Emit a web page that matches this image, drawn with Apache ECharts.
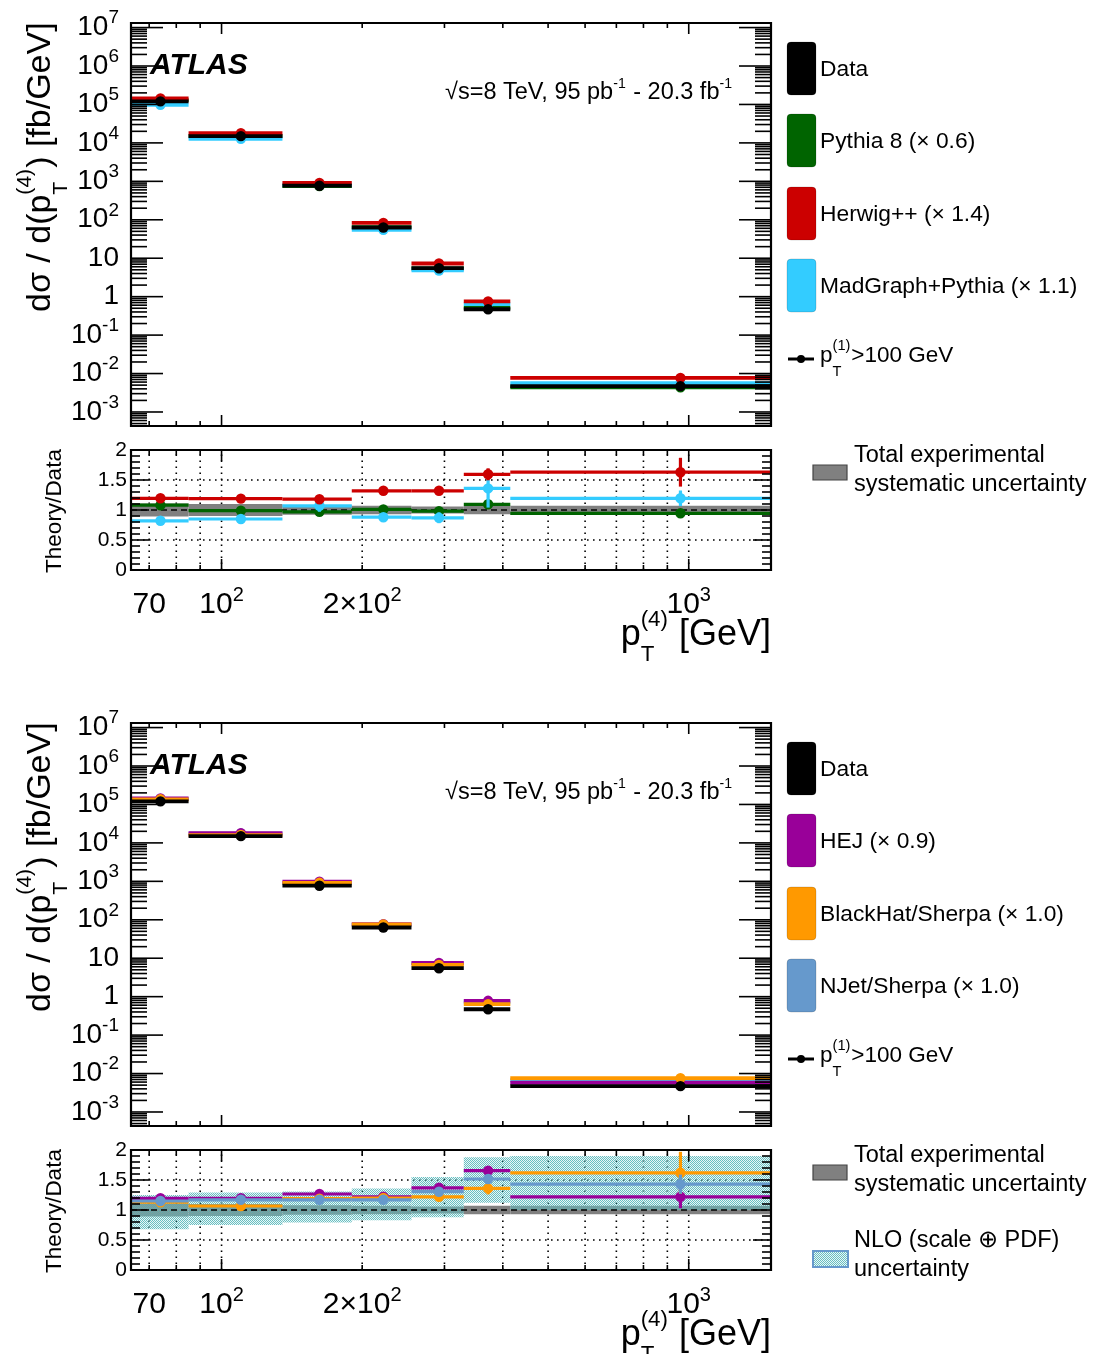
<!DOCTYPE html>
<html><head><meta charset="utf-8">
<script src="https://cdn.jsdelivr.net/npm/echarts@6/dist/echarts.min.js"></script>
<style>html,body{margin:0;padding:0;background:#fff}#c{width:1096px;height:1354px}</style>
</head><body><div id="c"></div>
<script>
// ================= DATA =================
const binEdges = [64, 85, 135, 190, 255, 330, 415, 1500];
const markerX = [74, 110, 162, 222, 292, 372, 960];

// cross sections [fb/GeV]
const dataXS     = [1.2e5, 1.5e4, 770, 63, 5.5, 0.47, 4.7e-3];
const pythiaXS   = [1.3e5, 1.49e4, 750, 64, 5.4, 0.51, 4.4e-3];
const herwigXS   = [1.43e5, 1.79e4, 910, 83, 7.3, 0.75, 7.7e-3];
const madgraphXS = [9.8e4, 1.28e4, 820, 55, 4.8, 0.64, 5.6e-3];
const hejXS      = [1.43e5, 1.79e4, 975, 77, 7.5, 0.78, 5.7e-3];
const blackhatXS = [1.36e5, 1.6e4, 915, 76, 6.7, 0.64, 7.6e-3];
const njetXS     = [1.38e5, 1.75e4, 900, 74, 7.2, 0.71, 6.7e-3];

// theory / data ratios
const pythiaRatio      = [1.08, 0.99, 0.97, 1.01, 0.98, 1.095, 0.945];
const pythiaRatioErr   = [0.02, 0.02, 0.03, 0.02, 0.03, 0.04, 0.05];
const herwigRatio      = [1.195, 1.19, 1.18, 1.32, 1.32, 1.595, 1.63];
const herwigRatioErr   = [0.02, 0.02, 0.03, 0.02, 0.03, 0.1, 0.24];
const madgraphRatio    = [0.82, 0.85, 1.07, 0.88, 0.87, 1.36, 1.195];
const madgraphRatioErr = [0.02, 0.03, 0.1, 0.03, 0.09, 0.32, 0.13];
const hejRatio         = [1.195, 1.195, 1.267, 1.22, 1.37, 1.655, 1.22];
const hejRatioErr      = [0.02, 0.02, 0.03, 0.03, 0.04, 0.06, 0.19];
const blackhatRatio    = [1.13, 1.067, 1.19, 1.2, 1.22, 1.36, 1.62];
const blackhatRatioErr = [0.02, 0.03, 0.03, 0.04, 0.07, 0.1, 0.35];
const njetRatio        = [1.15, 1.17, 1.17, 1.17, 1.305, 1.517, 1.43];
const njetRatioErr     = [0.02, 0.02, 0.02, 0.03, 0.05, 0.08, 0.16];

// uncertainty bands
const expSystLow  = [0.89, 0.90, 0.92, 0.93, 0.94, 0.93, 0.93];
const expSystHigh = [1.11, 1.10, 1.08, 1.07, 1.06, 1.07, 1.07];
const nloBandLow  = [0.68, 0.75, 0.79, 0.83, 0.88, 1.12, 1.0];
const nloBandHigh = [1.25, 1.29, 1.31, 1.36, 1.55, 1.88, 1.9];

// axes / tick labels
const xLabelValues = [70, 100, 200, 1000];
const xLabelTexts  = ['70', '10^{2}', '2×10^{2}', '10^{3}'];
const xMajorTicks  = [100, 1000];
const xMinorTicks  = [70, 80, 90, 200, 300, 400, 500, 600, 700, 800, 900];
const yLabelValues = [1e-3, 1e-2, 1e-1, 1, 10, 1e2, 1e3, 1e4, 1e5, 1e6, 1e7];
const yLabelTexts  = ['10^{-3}', '10^{-2}', '10^{-1}', '1', '10', '10^{2}', '10^{3}', '10^{4}', '10^{5}', '10^{6}', '10^{7}'];
const yMinorMult   = [2, 3, 4, 5, 6, 7, 8, 9];
const ratioLabelValues = [0, 0.5, 1, 1.5, 2];
const ratioLabelTexts  = ['0', '0.5', '1', '1.5', '2'];
const ratioGridValues  = [0.5, 1.5];

const topLegend    = ['Data', 'Pythia 8 (× 0.6)', 'Herwig++ (× 1.4)', 'MadGraph+Pythia (× 1.1)'];
const bottomLegend = ['Data', 'HEJ (× 0.9)', 'BlackHat/Sherpa (× 1.0)', 'NJet/Sherpa (× 1.0)'];

// ================= STYLE =================
const C = {data:'#000000', pythia:'#006400', herwig:'#cc0000', madgraph:'#33ccff',
           hej:'#990099', blackhat:'#ff9900', njet:'#6699cc', syst:'#808080'};
const FONT = 'Liberation Sans';
const X_MIN = 64, X_MAX = 1500, Y_MIN = 4.32e-4, Y_MAX = 1.315e7;
const grids = [
  {left:131, top:23,   width:640, height:403},
  {left:131, top:450,  width:640, height:120},
  {left:131, top:723,  width:640, height:403},
  {left:131, top:1150, width:640, height:120}
];

// checker pattern for NLO band
const pc = document.createElement('canvas'); pc.width = 2; pc.height = 2;
const pctx = pc.getContext('2d');
pctx.fillStyle = 'rgba(78,180,182,0.85)'; pctx.fillRect(0,0,1,1); pctx.fillRect(1,1,1,1);
pctx.fillStyle = 'rgba(170,220,222,0.25)'; pctx.fillRect(1,0,1,1); pctx.fillRect(0,1,1,1);
const nloPattern = {image: pc, repeat: 'repeat'};

// ================= HELPERS =================
const mctx = document.createElement('canvas').getContext('2d');
function tw(t, s, w) { mctx.font = (w || 'normal') + ' ' + s + 'px "' + FONT + '"'; return mctx.measureText(t).width; }
function txt(x, base, text, size, extra) {
  return {type:'text', x: x, y: base - 0.32 * size, silent:true,
    style: Object.assign({text: text, fontSize: size, fontFamily: FONT, fill: '#000', align: 'left', verticalAlign: 'middle'}, extra || {})};
}
// parts: strings or {sup, sub}
function scriptLine(parts, size, o) {
  o = o || {};
  const ss = size * (o.scale || 0.62), supDy = size * (o.supDy != null ? o.supDy : -0.55), subDy = size * (o.subDy != null ? o.subDy : 0.45);
  let x = 0; const ch = [];
  parts.forEach(p => {
    if (typeof p === 'string') { ch.push(txt(x, 0, p, size)); x += tw(p, size); }
    else {
      let w = 0;
      if (p.sup) { ch.push(txt(x, supDy, p.sup, ss)); w = Math.max(w, tw(p.sup, ss)); }
      if (p.sub) { ch.push(txt(x, subDy, p.sub, ss)); w = Math.max(w, tw(p.sub, ss)); }
      x += w + 1;
    }
  });
  return {children: ch, width: x};
}
function richFmt(s) {
  const out = []; const re = /\^\{([^}]*)\}/g; let last = 0, m;
  while ((m = re.exec(s))) { if (m.index > last) out.push('{b|' + s.slice(last, m.index) + '}'); out.push('{sup|' + m[1] + '}'); last = re.lastIndex; }
  if (last < s.length) out.push('{b|' + s.slice(last) + '}');
  return out.join('');
}
function findIdx(arr, v) { return arr.findIndex(t => Math.abs(t - v) <= Math.abs(t) * 1e-6 + 1e-12); }

// ================= SERIES BUILDERS =================
function mainSeries(gi, vals, color, lw, r) {
  return {type:'custom', xAxisIndex:gi, yAxisIndex:gi, clip:false, silent:true,
    data: vals.map((v, i) => [binEdges[i], binEdges[i+1], markerX[i], v]),
    encode: {x:[0,1,2], y:3},
    renderItem: (p, api) => {
      const v = api.value(3);
      const a = api.coord([api.value(0), v]), b = api.coord([api.value(1), v]), m = api.coord([api.value(2), v]);
      return {type:'group', children:[
        {type:'line', shape:{x1:a[0], y1:a[1], x2:b[0], y2:b[1]}, style:{stroke:color, lineWidth:lw}},
        {type:'circle', shape:{cx:m[0], cy:m[1], r:r}, style:{fill:color}}]};
    }};
}
function ratioSeries(gi, vals, errs, color) {
  return {type:'custom', xAxisIndex:gi, yAxisIndex:gi, clip:false, silent:true,
    data: vals.map((v, i) => [binEdges[i], binEdges[i+1], markerX[i], v, errs[i]]),
    encode: {x:[0,1,2], y:3},
    renderItem: (p, api) => {
      const v = api.value(3), e = api.value(4);
      const a = api.coord([api.value(0), v]), b = api.coord([api.value(1), v]), m = api.coord([api.value(2), v]);
      const t = api.coord([api.value(2), v + e]), d = api.coord([api.value(2), v - e]);
      return {type:'group', children:[
        {type:'line', shape:{x1:a[0], y1:a[1], x2:b[0], y2:b[1]}, style:{stroke:color, lineWidth:3.2}},
        {type:'line', shape:{x1:t[0], y1:t[1], x2:d[0], y2:d[1]}, style:{stroke:color, lineWidth:3.2}},
        {type:'circle', shape:{cx:m[0], cy:m[1], r:5.2}, style:{fill:color}}]};
    }};
}
function bandSeries(gi, lows, highs, fill) {
  return {type:'custom', xAxisIndex:gi, yAxisIndex:gi, clip:true, silent:true,
    data: lows.map((l, i) => [binEdges[i], binEdges[i+1], l, highs[i]]),
    encode: {x:[0,1], y:[2,3]},
    renderItem: (p, api) => {
      const a = api.coord([api.value(0), api.value(3)]), b = api.coord([api.value(1), api.value(2)]);
      return {type:'rect', shape:{x:a[0], y:a[1], width:b[0]-a[0], height:b[1]-a[1]}, style:{fill:fill}};
    }};
}
function ratioGridSeries(gi) {
  return {type:'custom', xAxisIndex:gi, yAxisIndex:gi, clip:false, silent:true, data:[[100, 1]],
    renderItem: (p, api) => {
      const ch = []; const dot = {stroke:'#000', lineWidth:1.6, lineDash:[1.6, 4.4]};
      xMajorTicks.concat(xMinorTicks).forEach(v => {
        const a = api.coord([v, 0]), b = api.coord([v, 2]);
        ch.push({type:'line', shape:{x1:a[0], y1:a[1], x2:b[0], y2:b[1]}, style:dot});
      });
      ratioGridValues.forEach(v => {
        const a = api.coord([X_MIN, v]), b = api.coord([X_MAX, v]);
        ch.push({type:'line', shape:{x1:a[0], y1:a[1], x2:b[0], y2:b[1]}, style:dot});
      });
      return {type:'group', children:ch};
    }};
}
function unitySeries(gi) {
  return {type:'custom', xAxisIndex:gi, yAxisIndex:gi, clip:false, silent:true, data:[[100, 1]],
    renderItem: (p, api) => {
      const a = api.coord([X_MIN, 1]), b = api.coord([X_MAX, 1]);
      return {type:'line', shape:{x1:a[0], y1:a[1], x2:b[0], y2:b[1]}, style:{stroke:'#000', lineWidth:1.6, lineDash:[6, 4]}};
    }};
}
function frameSeries(gi, isMain) {
  return {type:'custom', xAxisIndex:gi, yAxisIndex:gi, clip:false, silent:true, data:[[100, 1]],
    renderItem: (p, api) => {
      const yLo = isMain ? Y_MIN : 0, yHi = isMain ? Y_MAX : 2, yRef = 1;
      const tl = api.coord([X_MIN, yHi]), br = api.coord([X_MAX, yLo]);
      const L = tl[0], R = br[0], T = tl[1], B = br[1];
      const ch = []; const st = {stroke:'#000', lineWidth:1.6};
      const seg = (x1, y1, x2, y2) => ch.push({type:'line', shape:{x1, y1, x2, y2}, style:st});
      xMajorTicks.forEach(v => { const x = api.coord([v, yRef])[0]; seg(x, B, x, B - 11); seg(x, T, x, T + 11); });
      xMinorTicks.forEach(v => { const x = api.coord([v, yRef])[0]; seg(x, B, x, B - 5); seg(x, T, x, T + 5); });
      if (isMain) {
        for (let k = -4; k <= 7; k++) {
          const major = Math.pow(10, k);
          if (major >= Y_MIN && major <= Y_MAX) { const y = api.coord([100, major])[1]; seg(L, y, L + 32, y); seg(R, y, R - 32, y); }
          yMinorMult.forEach(m => { const v = m * major; if (v >= Y_MIN && v <= Y_MAX) { const y = api.coord([100, v])[1]; seg(L, y, L + 16, y); seg(R, y, R - 16, y); } });
        }
      } else {
        for (let i = 0; i <= 20; i++) {
          const v = i / 10; const y = api.coord([100, v])[1]; const len = (i % 5 === 0) ? 18 : 9;
          seg(L, y, L + len, y); seg(R, y, R - len, y);
        }
      }
      ch.push({type:'rect', shape:{x:L, y:T, width:R - L, height:B - T}, style:{fill:'none', stroke:'#000', lineWidth:2.2}});
      return {type:'group', children:ch};
    }};
}

// ================= AXES =================
const xRich = {b:{fontSize:30, lineHeight:40, fontFamily:FONT, color:'#000'}, sup:{fontSize:20, lineHeight:10, verticalAlign:'top', fontFamily:FONT, color:'#000'}};
const yRich = {b:{fontSize:28, lineHeight:38, fontFamily:FONT, color:'#000'}, sup:{fontSize:19, lineHeight:10, verticalAlign:'top', fontFamily:FONT, color:'#000'}};
const xAxis = grids.map((g, i) => ({
  type:'log', logBase:10, gridIndex:i, min:X_MIN, max:X_MAX,
  axisLine:{show:false}, axisTick:{show:false}, splitLine:{show:false}, minorTick:{show:false},
  axisLabel: (i % 2 === 1) ? {show:true, customValues:xLabelValues, margin:15, rich:xRich, fontFamily:FONT, color:'#000',
     formatter: v => { const k = findIdx(xLabelValues, v); return k < 0 ? '' : richFmt(xLabelTexts[k]); }} : {show:false}
}));
const yAxis = grids.map((g, i) => (i % 2 === 0) ? ({
  type:'log', logBase:10, gridIndex:i, min:Y_MIN, max:Y_MAX,
  axisLine:{show:false}, axisTick:{show:false}, splitLine:{show:false}, minorTick:{show:false},
  axisLabel:{show:true, customValues:yLabelValues, margin:12, rich:yRich, fontFamily:FONT, color:'#000',
     formatter: v => { const k = findIdx(yLabelValues, v); return k < 0 ? '' : richFmt(yLabelTexts[k]); }}
}) : ({
  type:'value', gridIndex:i, min:0, max:2, interval:0.5,
  axisLine:{show:false}, axisTick:{show:false}, splitLine:{show:false},
  axisLabel:{show:true, margin:4, fontSize:21, fontFamily:FONT, color:'#000',
     formatter: v => { const k = findIdx(ratioLabelValues, v); return k < 0 ? '' : ratioLabelTexts[k]; }}
}));

// ================= SERIES =================
const series = [
  // top main
  mainSeries(0, pythiaXS, C.pythia, 3.8, 5.2),
  mainSeries(0, madgraphXS, C.madgraph, 3.8, 5.2),
  mainSeries(0, herwigXS, C.herwig, 3.8, 5.2),
  mainSeries(0, dataXS, C.data, 3.8, 5.2),
  frameSeries(0, true),
  // top ratio
  ratioGridSeries(1),
  bandSeries(1, expSystLow, expSystHigh, C.syst),
  unitySeries(1),
  ratioSeries(1, pythiaRatio, pythiaRatioErr, C.pythia),
  ratioSeries(1, madgraphRatio, madgraphRatioErr, C.madgraph),
  ratioSeries(1, herwigRatio, herwigRatioErr, C.herwig),
  frameSeries(1, false),
  // bottom main
  mainSeries(2, njetXS, C.njet, 3.8, 5.2),
  mainSeries(2, hejXS, C.hej, 3.8, 5.2),
  mainSeries(2, blackhatXS, C.blackhat, 3.8, 5.2),
  mainSeries(2, dataXS, C.data, 3.8, 5.2),
  frameSeries(2, true),
  // bottom ratio
  ratioGridSeries(3),
  bandSeries(3, expSystLow, expSystHigh, C.syst),
  bandSeries(3, nloBandLow, nloBandHigh, nloPattern),
  unitySeries(3),
  ratioSeries(3, hejRatio, hejRatioErr, C.hej),
  ratioSeries(3, blackhatRatio, blackhatRatioErr, C.blackhat),
  ratioSeries(3, njetRatio, njetRatioErr, C.njet),
  frameSeries(3, false)
];

// ================= GRAPHICS (texts, legends) =================
const gfx = [];
function addLine(parts, size, x, base, o, align) {
  const r = scriptLine(parts, size, o);
  const gx = align === 'right' ? x - r.width : (align === 'center' ? x - r.width / 2 : x);
  gfx.push({type:'group', x:gx, y:base, children:r.children});
}
function addRotLine(parts, size, baseX, startY, o, align) {
  const r = scriptLine(parts, size, o);
  const sy = align === 'center' ? startY + r.width / 2 : startY;
  gfx.push({type:'group', x:baseX, y:sy, rotation:Math.PI / 2, children:r.children});
}
[0, 700].forEach((o, panel) => {
  // ATLAS label
  gfx.push(txt(150, 75 + o, 'ATLAS', 30, {fontWeight:'bold', fontStyle:'italic'}));
  addLine(['√s=8 TeV, 95 pb', {sup:'-1'}, ' - 20.3 fb', {sup:'-1'}], 23.5, 733, 100 + o, {supDy:-0.5, scale:0.6}, 'right');
  // legend
  const names = panel === 0 ? topLegend : bottomLegend;
  const cols = panel === 0 ? [C.data, C.pythia, C.herwig, C.madgraph] : [C.data, C.hej, C.blackhat, C.njet];
  const boxTop = [42, 114, 187, 259];
  names.forEach((n, j) => {
    gfx.push({type:'rect', shape:{x:787, y:boxTop[j] + o, width:29, height:53, r:4}, style:{fill:cols[j], stroke:'rgba(0,0,0,0.15)', lineWidth:1}, silent:true});
    addLine([n], 22.8, 820, boxTop[j] + 26.5 + 9 + o, {}, 'left');
  });
  gfx.push({type:'line', shape:{x1:788, y1:359 + o, x2:814, y2:359 + o}, style:{stroke:'#000', lineWidth:3}, silent:true});
  gfx.push({type:'circle', shape:{cx:801, cy:359 + o, r:4}, style:{fill:'#000'}, silent:true});
  addLine(['p', {sup:'(1)', sub:'T'}, '>100 GeV'], 22.5, 820, 363 + o, {supDy:-0.55, subDy:0.6, scale:0.65}, 'left');
  // ratio legend
  gfx.push({type:'rect', shape:{x:813, y:465 + o, width:34, height:15}, style:{fill:C.syst, stroke:'#444', lineWidth:1.2}, silent:true});
  addLine(['Total experimental'], 23.5, 854, 463 + o, {}, 'left');
  addLine(['systematic uncertainty'], 23.5, 854, 492 + o, {}, 'left');
  // axis titles
  addRotLine(['dσ / d(p', {sup:'(4)', sub:'T'}, ') [fb/GeV]'], 34, 52, 312 + o, {supDy:-0.6, subDy:0.46}, 'left');
  addRotLine(['Theory/Data'], 22.5, 62, 511 + o, {}, 'center');
  addLine(['p', {sup:'(4)', sub:'T'}, ' [GeV]'], 36, 771, 647 + o, {supDy:-0.55, subDy:0.42}, 'right');
});
// NLO legend (bottom only)
gfx.push({type:'rect', shape:{x:813, y:1251, width:35, height:16}, style:{fill:nloPattern, stroke:'#6699cc', lineWidth:2}, silent:true});
addLine(['NLO (scale ⊕ PDF)'], 23.5, 854, 1248, {}, 'left');
addLine(['uncertainty'], 23.5, 854, 1277, {}, 'left');

// ================= CHART =================
const chart = echarts.init(document.getElementById('c'), null, {renderer:'canvas'});
chart.setOption({
  animation:false,
  backgroundColor:'#fff',
  textStyle:{fontFamily:FONT},
  grid: grids.map(g => Object.assign({show:false, containLabel:false}, g)),
  xAxis: xAxis,
  yAxis: yAxis,
  series: series,
  graphic: {elements: gfx}
});
</script>
</body></html>
